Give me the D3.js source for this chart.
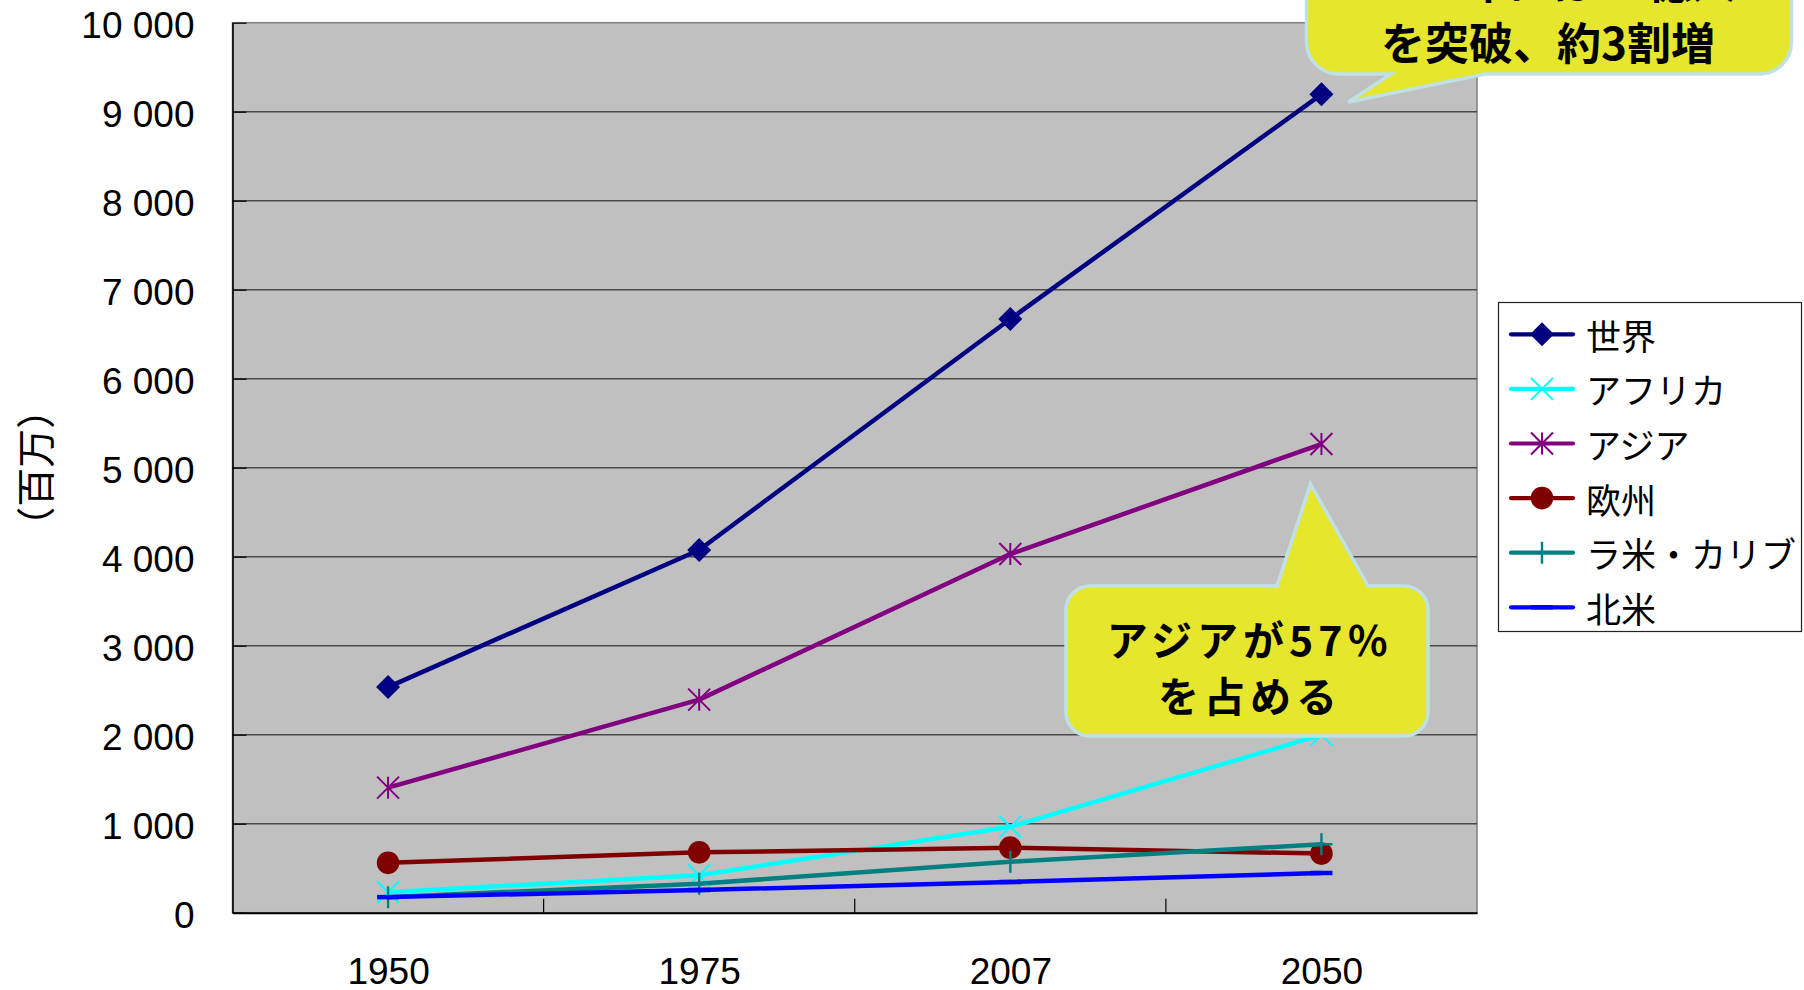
<!DOCTYPE html>
<html>
<head>
<meta charset="utf-8">
<script src="https://cdn.jsdelivr.net/npm/d3@7"></script>
<style>
  html, body { margin: 0; padding: 0; background: #ffffff; }
  svg { display: block; }
</style>
</head>
<body>
<svg id="chart" width="1804" height="990"></svg>
<script>
// Population by region (millions)
const years = ["1950", "1975", "2007", "2050"];
const world        = [2535, 4076, 6671, 9195];
const africa       = [230, 420, 965, 1998];
const asia         = [1405, 2394, 4030, 5266];
const europe       = [560, 678, 731, 664];
const latinAmerica = [175, 326, 572, 769];
const northAmerica = [175, 255, 345, 446];

const seriesNames = ["世界", "アフリカ", "アジア", "欧州", "ラ米・カリブ", "北米"];
const seriesValues = [world, africa, asia, europe, latinAmerica, northAmerica];
const seriesColors = ["#000080", "#00ffff", "#800080", "#800000", "#008080", "#0000ff"];
const seriesMarkers = ["diamond", "cross", "asterisk", "circle", "plus", "dash"];

const yTicks = [0, 1000, 2000, 3000, 4000, 5000, 6000, 7000, 8000, 9000, 10000];
const yTitle = "（百万）";
const noteWorld = ["2050年には90億人", "を突破、約3割増"];
const noteAsia = ["アジアが57％", "を占める"];

const svg = d3.select("#chart");
const jp = "'Noto Sans CJK JP', 'Noto Sans', sans-serif";
const latin = "'Liberation Sans', Arial, sans-serif";

const plot = { left: 232.5, right: 1477, top: 22.7, bottom: 912.7 };

const x = d3.scalePoint().domain(years).range([plot.left, plot.right]).padding(0.5);
const y = d3.scaleLinear().domain([0, 10000]).range([plot.bottom, plot.top]);

const fmt = d3.formatLocale({ decimal: ".", thousands: " ", grouping: [3], currency: ["", ""] }).format(",d");

// plot area
svg.append("rect")
  .attr("x", plot.left).attr("y", plot.top)
  .attr("width", plot.right - plot.left).attr("height", plot.bottom - plot.top)
  .attr("fill", "#c0c0c0")
  .attr("stroke", "#808080").attr("stroke-width", 1.5);

// horizontal gridlines
svg.append("g").selectAll("line")
  .data(yTicks.filter(d => d > 0 && d < 10000))
  .join("line")
  .attr("x1", plot.left).attr("x2", plot.right)
  .attr("y1", d => y(d)).attr("y2", d => y(d))
  .attr("stroke", "#4a4a4a").attr("stroke-width", 1.4);

// y axis with inside ticks
const yAxis = svg.append("g")
  .attr("transform", `translate(${plot.left},0)`)
  .call(d3.axisLeft(y).tickValues(yTicks).tickSize(-14).tickSizeOuter(0).tickPadding(38).tickFormat(fmt));
yAxis.select(".domain").attr("stroke", "#000").attr("stroke-width", 1.6);
yAxis.selectAll(".tick line").attr("stroke", "#000").attr("stroke-width", 1.2);
yAxis.selectAll("text")
  .attr("dy", "0.40em")
  .style("font-family", latin).style("font-size", "37px").attr("fill", "#000");

// x axis: labels at category centres, ticks at category boundaries
const xAxis = svg.append("g")
  .attr("transform", `translate(0,${plot.bottom})`)
  .call(d3.axisBottom(x).tickSize(0).tickPadding(45));
xAxis.select(".domain").attr("stroke", "#000").attr("stroke-width", 2);
xAxis.selectAll("text")
  .style("font-family", latin).style("font-size", "37px").attr("fill", "#000");

const step = x.step();
svg.append("g").selectAll("line")
  .data(years.slice(0, -1))
  .join("line")
  .attr("x1", d => x(d) + step / 2).attr("x2", d => x(d) + step / 2)
  .attr("y1", plot.bottom).attr("y2", plot.bottom - 14)
  .attr("stroke", "#000").attr("stroke-width", 1.2);

// y axis title
svg.append("text")
  .attr("transform", `translate(33,${(plot.top + plot.bottom) / 2}) rotate(-90)`)
  .attr("text-anchor", "middle").attr("dominant-baseline", "central")
  .style("font-family", jp).style("font-size", "39px")
  .text(yTitle);

// marker drawing
function drawMarker(g, type, color, cx, cy) {
  const s = 11;
  if (type === "diamond") {
    g.append("path")
      .attr("d", `M${cx},${cy - 12}L${cx + 12},${cy}L${cx},${cy + 12}L${cx - 12},${cy}Z`)
      .attr("fill", color);
  } else if (type === "circle") {
    g.append("circle").attr("cx", cx).attr("cy", cy).attr("r", 11.3).attr("fill", color);
  } else if (type === "cross" || type === "asterisk") {
    g.append("path")
      .attr("d", `M${cx - s},${cy - s}L${cx + s},${cy + s}M${cx - s},${cy + s}L${cx + s},${cy - s}` +
        (type === "asterisk" ? `M${cx},${cy - s}L${cx},${cy + s}` : ""))
      .attr("stroke", color).attr("stroke-width", 2).attr("fill", "none");
  } else if (type === "plus") {
    g.append("path")
      .attr("d", `M${cx - s},${cy}L${cx + s},${cy}M${cx},${cy - s}L${cx},${cy + s}`)
      .attr("stroke", color).attr("stroke-width", 2.4).attr("fill", "none");
  } else if (type === "dash") {
    g.append("path")
      .attr("d", `M${cx - s},${cy}L${cx + s},${cy}`)
      .attr("stroke", color).attr("stroke-width", 4.5).attr("fill", "none");
  }
}

// series lines + markers
const line = d3.line().x((d, i) => x(years[i])).y(d => y(d));
seriesValues.forEach((vals, k) => {
  const g = svg.append("g");
  g.append("path")
    .attr("d", line(vals))
    .attr("fill", "none")
    .attr("stroke", seriesColors[k]).attr("stroke-width", 4.5)
    .attr("stroke-linejoin", "round");
  vals.forEach((v, i) => drawMarker(g, seriesMarkers[k], seriesColors[k], x(years[i]), y(v)));
});

// callouts
const calloutFill = "#e6e62c";
const calloutStroke = "#bfe1e6";

function calloutTop(x0, y0, x1, y1, r, b0, b1, tip) {
  // tail rises from the top edge between b0 and b1
  return `M${x0 + r},${y0}L${b0},${y0}L${tip[0]},${tip[1]}L${b1},${y0}L${x1 - r},${y0}` +
    `A${r},${r} 0 0 1 ${x1},${y0 + r}L${x1},${y1 - r}A${r},${r} 0 0 1 ${x1 - r},${y1}` +
    `L${x0 + r},${y1}A${r},${r} 0 0 1 ${x0},${y1 - r}L${x0},${y0 + r}A${r},${r} 0 0 1 ${x0 + r},${y0}Z`;
}
function calloutBottom(x0, y0, x1, y1, r, b0, b1, tip) {
  // tail hangs from the bottom edge between b0 and b1
  return `M${x0 + r},${y0}L${x1 - r},${y0}A${r},${r} 0 0 1 ${x1},${y0 + r}L${x1},${y1 - r}` +
    `A${r},${r} 0 0 1 ${x1 - r},${y1}L${b1},${y1}L${tip[0]},${tip[1]}L${b0},${y1}` +
    `L${x0 + r},${y1}A${r},${r} 0 0 1 ${x0},${y1 - r}L${x0},${y0 + r}A${r},${r} 0 0 1 ${x0 + r},${y0}Z`;
}

svg.append("path")
  .attr("d", calloutBottom(1306.5, -140, 1791.5, 74, 32, 1391, 1485, [1348.5, 102]))
  .attr("fill", calloutFill).attr("stroke", calloutStroke).attr("stroke-width", 3.5)
  .attr("stroke-linejoin", "miter");

svg.append("g").selectAll("text")
  .data(noteWorld)
  .join("text")
  .attr("x", 1548).attr("y", (d, i) => 41 - (1 - i) * 61)
  .attr("text-anchor", "middle").attr("dominant-baseline", "central")
  .style("font-family", jp).style("font-size", "44px").style("font-weight", "bold")
  .text(d => d);

svg.append("path")
  .attr("d", calloutTop(1066, 586, 1428, 736, 24, 1277, 1368, [1310.5, 484]))
  .attr("fill", calloutFill).attr("stroke", calloutStroke).attr("stroke-width", 3.5)
  .attr("stroke-linejoin", "miter");

svg.append("g").selectAll("text")
  .data(noteAsia)
  .join("text")
  .attr("x", 1250).attr("y", (d, i) => 638 + i * 56)
  .attr("text-anchor", "middle").attr("dominant-baseline", "central")
  .style("font-family", jp).style("font-size", "41px").style("font-weight", "bold")
  .style("letter-spacing", "5px")
  .text(d => d);

// legend
const legend = svg.append("g");
legend.append("rect")
  .attr("x", 1498.5).attr("y", 302.5).attr("width", 303).attr("height", 329)
  .attr("fill", "#fff").attr("stroke", "#222").attr("stroke-width", 1.2);
seriesNames.forEach((name, k) => {
  const cy = 334.3 + k * 54.6;
  const row = legend.append("g");
  row.append("line")
    .attr("x1", 1511).attr("x2", 1573).attr("y1", cy).attr("y2", cy)
    .attr("stroke", seriesColors[k]).attr("stroke-width", 4.2).attr("stroke-linecap", "round");
  drawMarker(row, seriesMarkers[k], seriesColors[k], 1542, cy);
  row.append("text")
    .attr("x", 1586).attr("y", cy)
    .attr("dominant-baseline", "central")
    .style("font-family", jp).style("font-size", "35px")
    .text(name);
});
</script>
</body>
</html>
